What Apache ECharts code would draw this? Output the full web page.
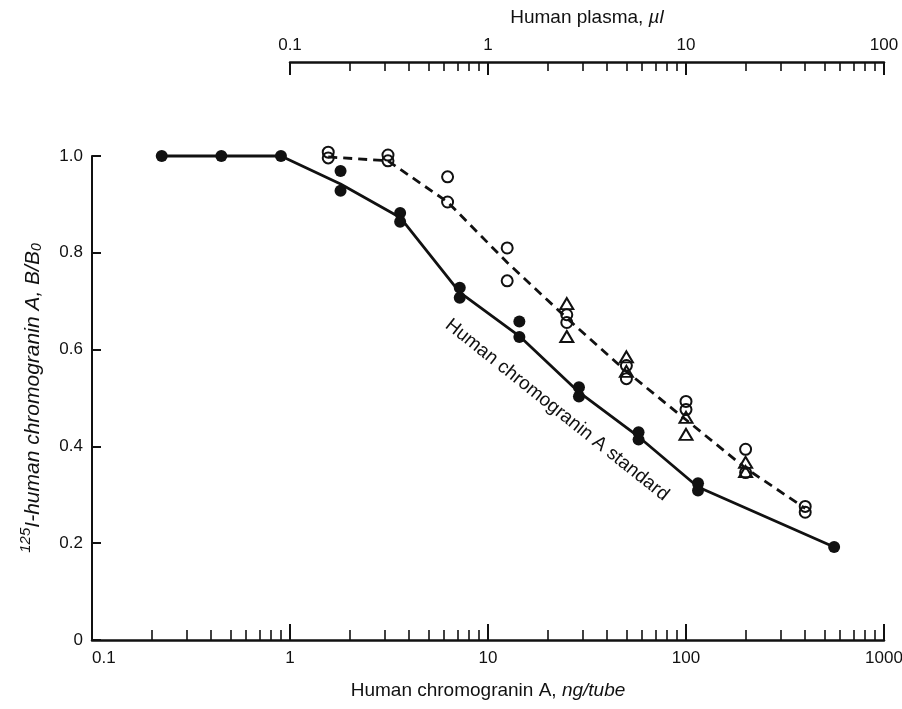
<!DOCTYPE html>
<html>
<head>
<meta charset="utf-8">
<title>Chromogranin A RIA</title>
<script src="https://cdn.jsdelivr.net/npm/echarts@6/dist/echarts.min.js"></script>
<style>
  html, body { margin: 0; padding: 0; background: #fff; }
  #main { width: 902px; height: 709px; }
</style>
</head>
<body>
<div id="main"></div>
<script>
// standard curve, ng/tube (filled circles)
var stdDose  = [0.225, 0.45, 0.9, 1.8, 1.8, 3.6, 3.6, 7.2, 7.2, 14.4, 14.4, 28.8, 28.8, 57.6, 57.6, 115, 115, 560];
var stdRatio = [1.0, 1.0, 1.0, 0.969, 0.928, 0.882, 0.864, 0.728, 0.707, 0.658, 0.626, 0.522, 0.503, 0.429, 0.414, 0.324, 0.309, 0.192];
var stdLineDose  = [0.225, 0.45, 0.9, 1.8, 3.6, 7.2, 14.4, 28.8, 57.6, 115, 560];
var stdLineRatio = [1.0, 1.0, 1.0, 0.942, 0.873, 0.718, 0.628, 0.512, 0.42, 0.316, 0.192];

// human plasma, µl (open circles / triangles, dashed line)
var circVol   = [0.156, 0.156, 0.3125, 0.3125, 0.625, 0.625, 1.25, 1.25, 2.5, 2.5, 5, 5, 10, 10, 20, 20, 40, 40];
var circRatio = [1.008, 0.996, 1.002, 0.99, 0.957, 0.905, 0.81, 0.742, 0.672, 0.656, 0.567, 0.54, 0.493, 0.476, 0.394, 0.346, 0.276, 0.264];
var triVol    = [2.5, 2.5, 5, 5, 10, 10, 20, 20];
var triRatio  = [0.695, 0.627, 0.585, 0.555, 0.46, 0.425, 0.367, 0.348];
var plLineVol   = [0.156, 0.3125, 0.625, 1.25, 2.5, 5, 10, 20, 40];
var plLineRatio = [0.998, 0.99, 0.905, 0.78, 0.665, 0.555, 0.455, 0.355, 0.272];

// ticks
var bottomMinor = [0.2,0.3,0.4,0.5,0.6,0.7,0.8,0.9, 2,3,4,5,6,7,8,9, 20,30,40,50,60,70,80,90, 200,300,400,500,600,700,800,900];
var topMinor = [0.2,0.3,0.4,0.5,0.6,0.7,0.8,0.9, 2,3,4,5,6,7,8,9, 20,30,40,50,60,70,80,90];

function pairs(xs, ys) {
    return xs.map(function (x, i) { return [x, ys[i]]; });
}

var ink = '#111';
var font = '"Liberation Sans", Arial, Helvetica, sans-serif';
var fs = 17;     // tick labels
var fsName = 19; // axis titles

var chart = echarts.init(document.getElementById('main'));

var option = {
    animation: false,
    backgroundColor: '#fff',
    textStyle: { fontFamily: font, color: ink },
    grid: [
        { left: 92, right: 18, top: 156, bottom: 69, outerBoundsMode: 'none' },
        { left: 290, right: 18, top: 62, height: 10, outerBoundsMode: 'none' }
    ],
    xAxis: [
        {   // bottom, major
            gridIndex: 0, type: 'log', logBase: 10, min: 0.1, max: 1000, position: 'bottom',
            axisLine: { onZero: false, lineStyle: { color: ink, width: 2.5 } },
            axisTick: { inside: true, length: 16, lineStyle: { color: ink, width: 2 } },
            axisLabel: { color: ink, fontSize: fs, fontFamily: font, margin: 10, alignMinLabel: 'left',
                formatter: function (v) { return String(v); } },
            splitLine: { show: false },
            name: '{n|Human chromogranin A, }{i|ng/tube}',
            nameLocation: 'middle', nameGap: 41,
            nameTextStyle: { rich: {
                n: { fontSize: fsName, fontFamily: font, color: ink },
                i: { fontSize: fsName, fontFamily: font, color: ink, fontStyle: 'italic' }
            } }
        },
        {   // bottom, minor ticks
            gridIndex: 0, type: 'log', logBase: 10, min: 0.1, max: 1000, position: 'bottom',
            axisLine: { show: false, onZero: false },
            axisTick: { inside: true, length: 10, customValues: bottomMinor, lineStyle: { color: ink, width: 1.6 } },
            axisLabel: { show: false },
            splitLine: { show: false }
        },
        {   // hidden axis for plasma data (one decade shifted)
            gridIndex: 0, type: 'log', logBase: 10, min: 0.01, max: 100, show: false,
            axisLine: { onZero: false }
        },
        {   // top plasma axis
            gridIndex: 1, type: 'log', logBase: 10, min: 0.1, max: 100, position: 'top',
            axisLine: { onZero: false, lineStyle: { color: ink, width: 2.5 } },
            axisTick: { inside: true, length: 13, lineStyle: { color: ink, width: 2 } },
            axisLabel: { color: ink, fontSize: fs, fontFamily: font, margin: 8,
                formatter: function (v) { return String(v); } },
            splitLine: { show: false },
            name: '{n|Human plasma, }{i|µl}',
            nameLocation: 'middle', nameGap: 35,
            nameTextStyle: { rich: {
                n: { fontSize: fsName, fontFamily: font, color: ink },
                i: { fontSize: fsName, fontFamily: font, color: ink, fontStyle: 'italic' }
            } }
        },
        {   // top minor ticks
            gridIndex: 1, type: 'log', logBase: 10, min: 0.1, max: 100, position: 'top',
            axisLine: { show: false, onZero: false },
            axisTick: { inside: true, length: 9, customValues: topMinor, lineStyle: { color: ink, width: 1.6 } },
            axisLabel: { show: false },
            splitLine: { show: false }
        }
    ],
    yAxis: [
        {
            gridIndex: 0, type: 'value', min: 0, max: 1, interval: 0.2,
            axisLine: { show: true, onZero: false, lineStyle: { color: ink, width: 2 } },
            axisTick: { show: true, inside: true, length: 9, lineStyle: { color: ink, width: 2 } },
            axisLabel: { color: ink, fontSize: fs, fontFamily: font, margin: 9,
                formatter: function (v) { return v === 0 ? '0' : v.toFixed(1); } },
            splitLine: { show: false },
            name: '{sup|125}{it|I-human chromogranin A, B/B}{sub|0}',
            nameLocation: 'middle', nameGap: 48, nameRotate: 90,
            nameTextStyle: { rich: {
                sup: { fontSize: 15, fontFamily: font, color: ink, fontStyle: 'italic', verticalAlign: 'top', lineHeight: 26 },
                it: { fontSize: 21, fontFamily: font, color: ink, fontStyle: 'italic', verticalAlign: 'bottom', lineHeight: 26 },
                sub: { fontSize: 14, fontFamily: font, color: ink, fontStyle: 'italic', verticalAlign: 'bottom', lineHeight: 22 }
            } }
        },
        { gridIndex: 1, type: 'value', show: false }
    ],
    series: [
        {
            name: 'standard line', type: 'line', xAxisIndex: 0, yAxisIndex: 0,
            data: pairs(stdLineDose, stdLineRatio),
            showSymbol: false, clip: false,
            lineStyle: { color: ink, width: 2.8 }
        },
        {
            name: 'standard', type: 'scatter', xAxisIndex: 0, yAxisIndex: 0,
            data: pairs(stdDose, stdRatio), clip: false,
            symbol: 'circle', symbolSize: 12,
            itemStyle: { color: ink, opacity: 1 }
        },
        {
            name: 'plasma line', type: 'line', xAxisIndex: 2, yAxisIndex: 0,
            data: pairs(plLineVol, plLineRatio),
            showSymbol: false, clip: false,
            lineStyle: { color: ink, width: 2.8, type: [9, 6] }
        },
        {
            name: 'plasma circles', type: 'scatter', xAxisIndex: 2, yAxisIndex: 0,
            data: pairs(circVol, circRatio), clip: false,
            symbol: 'circle', symbolSize: 11,
            itemStyle: { color: 'rgba(255,255,255,0)', borderColor: ink, borderWidth: 2, opacity: 1 }
        },
        {
            name: 'plasma triangles', type: 'scatter', xAxisIndex: 2, yAxisIndex: 0,
            data: pairs(triVol, triRatio), clip: false,
            symbol: 'triangle', symbolSize: [13, 11],
            itemStyle: { color: 'rgba(255,255,255,0)', borderColor: ink, borderWidth: 2, opacity: 1 }
        }
    ],
    graphic: [
        {
            type: 'text', x: 557, y: 410, rotation: -38.5 * Math.PI / 180,
            style: { text: 'Human chromogranin A standard', fill: ink, font: fsName + 'px ' + font,
                align: 'center', verticalAlign: 'middle' }
        }
    ]
};

chart.setOption(option);
</script>
</body>
</html>
